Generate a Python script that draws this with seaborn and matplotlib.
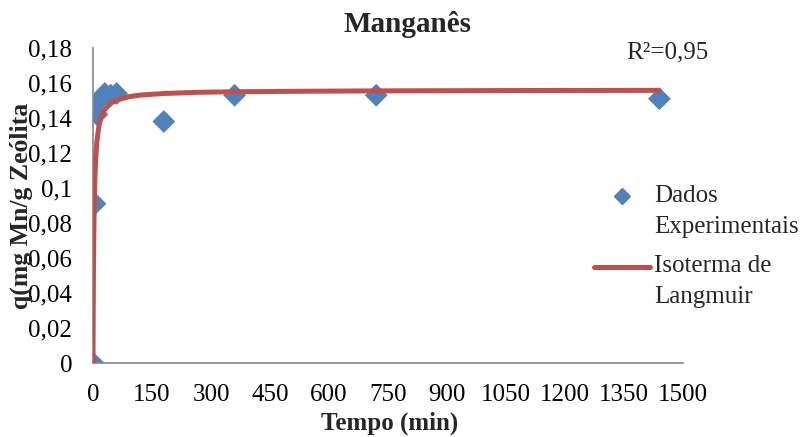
import matplotlib
matplotlib.use("Agg")
import matplotlib.pyplot as plt
import matplotlib.ticker as mticker
from matplotlib.lines import Line2D
from matplotlib.legend_handler import HandlerLine2D
import seaborn as sns
import pandas as pd

# Experimental adsorption data (time in minutes, q in mg Mn / g zeolite)
tempo_exp = [0, 5, 10, 15, 30, 45, 60, 180, 360, 720, 1440]
q_exp = [0.000, 0.091, 0.142, 0.150, 0.154, 0.153, 0.154, 0.138, 0.153, 0.153, 0.151]

# Langmuir model curve
tempo_mod = [0, 0.5, 1, 2, 3, 5, 7, 10, 15, 20, 30, 45, 60, 90, 120, 180,
             270, 360, 540, 720, 1080, 1440]
q_mod = [0.0, 0.0279, 0.0473, 0.0726, 0.0883, 0.1068, 0.1174, 0.1268, 0.1353,
         0.1399, 0.1449, 0.1484, 0.1502, 0.1521, 0.1531, 0.1540, 0.1547,
         0.1550, 0.1553, 0.1555, 0.1557, 0.1558]

x_ticks = [0, 150, 300, 450, 600, 750, 900, 1050, 1200, 1350, 1500]
y_ticks = [0, 0.02, 0.04, 0.06, 0.08, 0.10, 0.12, 0.14, 0.16, 0.18]

titulo = "Manganês"
rotulo_x = "Tempo (min)"
rotulo_y = "q(mg Mn/g Zeólita"
nome_exp = "Dados\nExperimentais"
nome_mod = "Isoterma de\nLangmuir"
texto_r2 = "R²=0,95"

azul = "#4F81BD"
vermelho = "#C0504D"
cinza = "#868686"

sns.set_theme(style="white")
plt.rcParams["font.family"] = ["Liberation Serif", "DejaVu Serif"]


class HandlerPrimeiraLinha(HandlerLine2D):
    """Legend handler that lines the key up with the first line of a two-line label."""

    def __init__(self, dy, **kw):
        super().__init__(**kw)
        self.dy = dy

    def create_artists(self, legend, orig_handle, xdescent, ydescent,
                       width, height, fontsize, trans):
        arts = super().create_artists(legend, orig_handle, xdescent, ydescent,
                                      width, height, fontsize, trans)
        for a in arts:
            a.set_ydata([y + self.dy for y in a.get_ydata()])
        return arts


df_exp = pd.DataFrame({"t": tempo_exp, "q": q_exp})
df_mod = pd.DataFrame({"t": tempo_mod, "q": q_mod})

fig = plt.figure(figsize=(8.02, 4.37), dpi=100)
ax = fig.add_axes([93 / 802, 1 - 363 / 437, 590 / 802, (363 - 48) / 437])

sns.scatterplot(data=df_exp, x="t", y="q", ax=ax, marker="D", s=135,
                color=azul, edgecolor="none", zorder=2, legend=False)
sns.lineplot(data=df_mod, x="t", y="q", ax=ax, color=vermelho, linewidth=3.6,
             sort=False, estimator=None, zorder=3, legend=False,
             solid_capstyle="round")

ax.set_xlim(0, 1500)
ax.set_ylim(0, 0.18)
ax.set_xticks(x_ticks)
ax.set_yticks(y_ticks)
ax.xaxis.set_major_formatter(mticker.FuncFormatter(lambda v, p: f"{int(round(v))}"))
ax.yaxis.set_major_formatter(
    mticker.FuncFormatter(lambda v, p: ("0" if v == 0 else f"{v:g}".replace(".", ","))))
ax.tick_params(axis="both", length=0, labelsize=18, colors="black")
ax.tick_params(axis="y", pad=15)
ax.tick_params(axis="x", pad=15)

for side in ("top", "right"):
    ax.spines[side].set_visible(False)
for side in ("left", "bottom"):
    ax.spines[side].set_color(cinza)
    ax.spines[side].set_linewidth(1.2)

ax.set_xlabel("")
ax.set_ylabel("")
fig.text(390 / 802, 1 - 423 / 437, rotulo_x, fontsize=18, fontweight="bold",
         ha="center", va="center")
fig.text(21 / 802, 1 - 206 / 437, rotulo_y, fontsize=18.5, fontweight="bold",
         rotation=90, ha="center", va="center")
fig.text(408 / 802, 1 - 25 / 437, titulo, fontsize=21, fontweight="bold",
         ha="center", va="center")
fig.text(667 / 802, 1 - 52 / 437, texto_r2, fontsize=18, ha="center", va="center")

h_exp = Line2D([], [], marker="D", linestyle="none", color=azul, markersize=8.5)
h_mod = Line2D([], [], color=vermelho, linewidth=3.6)
leg = fig.legend([h_exp, h_mod], [nome_exp, nome_mod], loc="upper left",
                 bbox_to_anchor=(594 / 802, 1 - 185 / 437), frameon=False,
                 fontsize=18, handlelength=2.25, handletextpad=0.15,
                 labelspacing=0.72, borderpad=0, borderaxespad=0,
                 handler_map={h_exp: HandlerPrimeiraLinha(dy=10.8),
                              h_mod: HandlerPrimeiraLinha(dy=10.8)})
for t in leg.get_texts():
    t.set_linespacing(1.5)

fig.savefig("out.png", dpi=100)
